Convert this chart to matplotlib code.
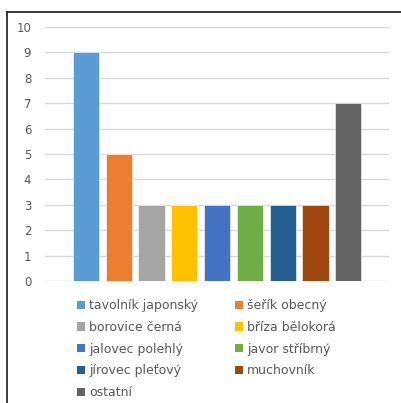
import matplotlib
matplotlib.use("Agg")
import matplotlib.pyplot as plt
from matplotlib.patches import Patch
from matplotlib.lines import Line2D

species = ["tavolník japonský", "šeřík obecný", "borovice černá", "bříza bělokorá",
           "jalovec polehlý", "javor stříbrný", "jírovec pleťový", "muchovník", "ostatní"]
counts = [9, 5, 3, 3, 3, 3, 3, 3, 7]
colors = ["#5B9BD5", "#ED7D31", "#A5A5A5", "#FFC000", "#4472C4",
          "#70AD47", "#255E91", "#9E480E", "#636363"]
y_ticks = list(range(0, 11))

plt.rcParams['font.family'] = ['DejaVu Sans']
text_color = "#595959"

fig = plt.figure(figsize=(4.02, 4.03), dpi=100)
ax = fig.add_axes([0.112, 0.303, 0.856, 0.630])

xs = list(range(len(species)))
ax.bar(xs, counts, width=0.8, color=colors, edgecolor="white", linewidth=0.4, zorder=3)

ax.set_xlim(-1.25, len(species) - 1 + 1.25)
ax.set_ylim(0, 10)
ax.set_yticks(y_ticks)
ax.set_xticks([])
ax.yaxis.grid(True, color="#D9D9D9", linewidth=1.0, zorder=0)
for s in ax.spines.values():
    s.set_visible(False)
ax.tick_params(axis="y", length=0, pad=10, labelsize=8.5, labelcolor=text_color)

handles = [Patch(facecolor=c, edgecolor="none") for c in colors]
order = [0, 2, 4, 6, 8, 1, 3, 5, 7]
fig.legend([handles[i] for i in order], [species[i] for i in order],
           ncol=2, loc="upper left", bbox_to_anchor=(0.1915, 0.258),
           frameon=False, fontsize=9, labelcolor=text_color,
           handlelength=0.64, handleheight=0.64, handletextpad=0.32,
           columnspacing=2.95, labelspacing=0.70, borderaxespad=0, borderpad=0)

# outer frame edges
fig.add_artist(Line2D([7 / 402, 7 / 402], [0, 1 - 12 / 403], color="#2a2a2a", linewidth=1.3))
fig.add_artist(Line2D([7 / 402, 1], [1 - 12 / 403, 1 - 12 / 403], color="#2a2a2a", linewidth=1.3))

fig.savefig("out.png", dpi=100)
